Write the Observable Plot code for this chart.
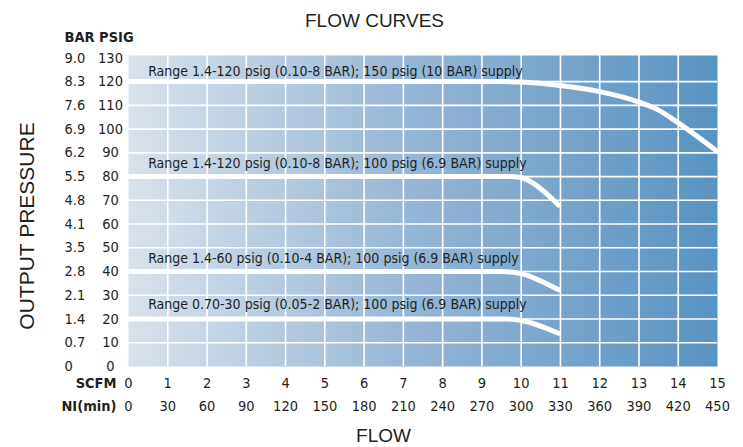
<!DOCTYPE html>
<html>
<head>
<meta charset="utf-8">
<script src="https://cdn.jsdelivr.net/npm/d3@7"></script>
<script src="https://cdn.jsdelivr.net/npm/@observablehq/plot@0.6"></script>
<style>
  html, body { margin: 0; padding: 0; background: #fff; }
</style>
</head>
<body>
<div id="chart"></div>
<script>
// ---- data ----
const scfmTicks = [0,1,2,3,4,5,6,7,8,9,10,11,12,13,14,15];
const niTicks   = [0,30,60,90,120,150,180,210,240,270,300,330,360,390,420,450];
const psigTicks = [0,10,20,30,40,50,60,70,80,90,100,110,120,130];
const barTicks  = ["0","0.7","1.4","2.1","2.8","3.5","4.1","4.8","5.5","6.2","6.9","7.6","8.3","9.0"];

// curves: flow (SCFM) -> output pressure (psig)
const curve150 = {flow: [0, 9.5, 10, 11, 12, 13, 13.5, 14, 15], psig: [120, 120, 119.8, 118.4, 115.8, 111.4, 108, 102.6, 90.5]};
const curve100hi = {flow: [0, 9.7, 10, 10.3, 10.95], psig: [80, 80, 79.6, 77.2, 68]};
const curve100mid = {flow: [0, 9.5, 10, 10.5, 10.95], psig: [40, 40, 39.1, 36, 32.3]};
const curve100lo = {flow: [0, 9.6, 10, 10.95], psig: [20, 20, 19.4, 14]};

const labelText = [
  "Range 1.4-120 psig (0.10-8 BAR); 150 psig (10 BAR) supply",
  "Range 1.4-120 psig (0.10-8 BAR); 100 psig (6.9 BAR) supply",
  "Range 1.4-60 psig (0.10-4 BAR); 100 psig (6.9 BAR) supply",
  "Range 0.70-30 psig (0.05-2 BAR); 100 psig (6.9 BAR) supply"
];
const labelFlow = [0.5, 0.5, 0.5, 0.5];
const labelPsig = [124.4, 85.4, 45.4, 26.2];

// ---- build ----
const toRows = c => c.flow.map((f, i) => ({flow: f, psig: c.psig[i]}));
const curves = [curve150, curve100hi, curve100mid, curve100lo];
const labels = labelText.map((t, i) => ({text: t, flow: labelFlow[i], psig: labelPsig[i]}));
const narrow = "'Liberation Sans Narrow', 'DejaVu Sans Condensed', 'Arial Narrow', sans-serif";
const regular = "'Liberation Sans', Arial, sans-serif";
const ink = "#231f20";
const fs = 14.5;

const svg = Plot.plot({
  width: 743,
  height: 447,
  marginTop: 55,
  marginBottom: 81,
  marginLeft: 128,
  marginRight: 26,
  x: {domain: [0, 15], axis: null},
  y: {domain: [0, 131], axis: null},
  style: {fontFamily: narrow, fontSize: fs + "px", color: ink, background: "#fff"},
  marks: [
    Plot.frame({fill: "url(#bgGrad)", stroke: "none"}),
    Plot.gridX(scfmTicks.slice(1, -1), {stroke: "#fff", strokeOpacity: 1, strokeWidth: 1.6}),
    Plot.gridY(psigTicks.slice(1, -1), {stroke: "#fff", strokeOpacity: 1, strokeWidth: 1.6}),
    ...curves.map(c => Plot.line(toRows(c), {x: "flow", y: "psig", stroke: "#fff", strokeWidth: 5, curve: "monotone-x"})),
    Plot.text(labels, {x: "flow", y: "psig", text: "text", textAnchor: "start", lineAnchor: "middle", fontSize: 14, fill: ink}),
    // PSIG column
    Plot.text(psigTicks, {y: d => d, text: d => String(d), frameAnchor: "left", dx: -18, textAnchor: "middle", lineAnchor: "middle", fill: ink}),
    // BAR column
    Plot.text(psigTicks, {y: d => d, text: (d, i) => barTicks[i], frameAnchor: "left", dx: -64, textAnchor: "start", lineAnchor: "middle", fill: ink}),
    Plot.text(["BAR PSIG"], {frameAnchor: "top-left", dx: -64, dy: -18.5, textAnchor: "start", lineAnchor: "middle", fontWeight: "bold", fill: ink}),
    // SCFM row
    Plot.text(scfmTicks, {x: d => d, text: d => String(d), frameAnchor: "bottom", dy: 17, lineAnchor: "middle", fill: ink}),
    Plot.text(["SCFM"], {frameAnchor: "bottom-left", dx: -12, dy: 17, textAnchor: "end", lineAnchor: "middle", fontWeight: "bold", fill: ink}),
    // NI(min) row
    Plot.text(niTicks, {x: (d, i) => scfmTicks[i], text: d => String(d), frameAnchor: "bottom", dy: 40, lineAnchor: "middle", fill: ink}),
    Plot.text(["NI(min)"], {frameAnchor: "bottom-left", dx: -12, dy: 40, textAnchor: "end", lineAnchor: "middle", fontWeight: "bold", fill: ink}),
    // titles
    Plot.text(["FLOW CURVES"], {frameAnchor: "top", dx: -48.5, dy: -35, lineAnchor: "middle", fontFamily: regular, fontSize: 19, fill: ink}),
    Plot.text(["FLOW"], {frameAnchor: "bottom", dx: -39.5, dy: 69, lineAnchor: "middle", fontFamily: regular, fontSize: 19, fill: ink}),
    Plot.text(["OUTPUT PRESSURE"], {frameAnchor: "left", dx: -101, dy: 15, rotate: -90, textAnchor: "middle", lineAnchor: "middle", fontFamily: regular, fontSize: 21, fill: ink})
  ]
});

const defs = d3.select(svg).insert("defs", ":first-child");
const g = defs.append("linearGradient").attr("id", "bgGrad").attr("x1", 0).attr("x2", 1).attr("y1", 0).attr("y2", 0);
g.append("stop").attr("offset", "0%").attr("stop-color", "#d9e2eb");
g.append("stop").attr("offset", "50%").attr("stop-color", "#93b4d5");
g.append("stop").attr("offset", "100%").attr("stop-color", "#5893c1");

document.getElementById("chart").append(svg);
</script>
</body>
</html>
